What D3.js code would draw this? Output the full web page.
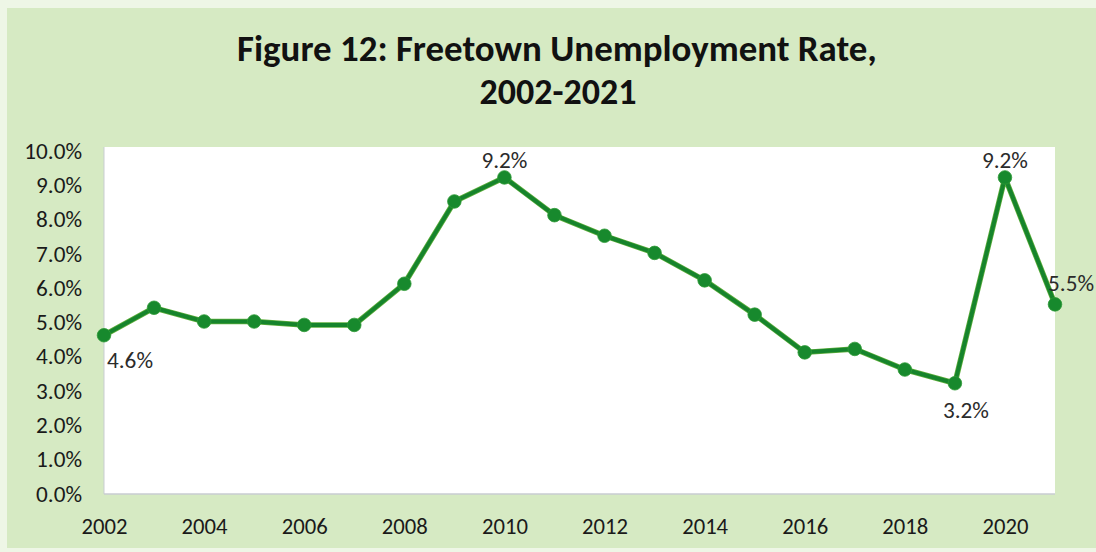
<!DOCTYPE html>
<html>
<head>
<meta charset="utf-8">
<script src="https://cdn.jsdelivr.net/npm/d3@7/dist/d3.min.js"></script>
<style>
  html, body { margin: 0; padding: 0; background: #ffffff; }
  svg { display: block; }
  text { font-family: Carlito, Calibri, Lato, "Open Sans", sans-serif; }
</style>
</head>
<body>
<svg id="chart" width="1096" height="552"></svg>
<script>
// ---- data ----
const years = [2002, 2003, 2004, 2005, 2006, 2007, 2008, 2009, 2010, 2011,
               2012, 2013, 2014, 2015, 2016, 2017, 2018, 2019, 2020, 2021];
const rates = [4.6, 5.4, 5.0, 5.0, 4.9, 4.9, 6.1, 8.5, 9.2, 8.1,
               7.5, 7.0, 6.2, 5.2, 4.1, 4.2, 3.6, 3.2, 9.2, 5.5];
const yTicks = [0, 1, 2, 3, 4, 5, 6, 7, 8, 9, 10];
const xTicks = [2002, 2004, 2006, 2008, 2010, 2012, 2014, 2016, 2018, 2020];
const labelledYears = [2002, 2010, 2019, 2020, 2021];
const titleLines = ["Figure 12: Freetown Unemployment Rate,", "2002-2021"];

// ---- layout ----
const W = 1096, H = 552;
const plot = { left: 104, right: 1055, top: 147, bottom: 494 };

const svg = d3.select("#chart");

// background
svg.append("rect").attr("x", 0).attr("y", 0).attr("width", W).attr("height", H).attr("fill", "#eef6e6");
svg.append("rect").attr("x", 7).attr("y", 8).attr("width", W - 7).attr("height", H - 12).attr("fill", "#d6eac3");

// scales
const x = d3.scaleLinear().domain([2002, 2021]).range([plot.left, plot.right]);
const y = d3.scaleLinear().domain([0, 10]).range([plot.bottom - 1, plot.bottom - 1 - 343]);

// plot area
svg.append("rect")
  .attr("x", plot.left).attr("y", plot.top)
  .attr("width", plot.right - plot.left).attr("height", plot.bottom - plot.top)
  .attr("fill", "#ffffff");

// axes lines (faint)
svg.append("line").attr("x1", plot.left).attr("x2", plot.left)
  .attr("y1", plot.top).attr("y2", plot.bottom)
  .attr("stroke", "#c9cdd2").attr("stroke-width", 1);
svg.append("line").attr("x1", plot.left).attr("x2", plot.right)
  .attr("y1", plot.bottom).attr("y2", plot.bottom)
  .attr("stroke", "#c9cdd2").attr("stroke-width", 1.5);

// helper: size font so a sample string reaches a target width
function fittedSize(sample, targetWidth, weight) {
  const tmp = svg.append("text").attr("font-size", 20).attr("font-weight", weight || "normal").text(sample);
  const w = tmp.node().getComputedTextLength();
  tmp.remove();
  return w > 0 ? 20 * targetWidth / w : 20;
}

// title
svg.append("text").attr("x", 557).attr("y", 61)
  .attr("text-anchor", "middle").attr("font-weight", "bold")
  .attr("font-size", fittedSize(titleLines[0], 640, "bold"))
  .attr("fill", "#111").text(titleLines[0]);
svg.append("text").attr("x", 558).attr("y", 104)
  .attr("text-anchor", "middle").attr("font-weight", "bold")
  .attr("font-size", fittedSize(titleLines[1], 157, "bold"))
  .attr("fill", "#111").text(titleLines[1]);

const tickSize = fittedSize("9.0%", 46);
const yearSize = fittedSize("2002", 46);
const dlSize = fittedSize("4.6%", 46);

// y axis
const yAxis = d3.axisLeft(y).tickValues(yTicks).tickSize(0).tickPadding(0)
  .tickFormat(d => d.toFixed(1) + "%");
const gy = svg.append("g").attr("transform", `translate(${82},0)`).call(yAxis);
gy.select(".domain").remove();
gy.selectAll("text").attr("font-size", tickSize).attr("fill", "#1a1a1a")
  .attr("font-family", "Carlito, Calibri, Lato, sans-serif").attr("dy", "0.35em");

// x axis
const xAxis = d3.axisBottom(x).tickValues(xTicks).tickSize(0).tickPadding(0)
  .tickFormat(d3.format("d"));
const gx = svg.append("g").attr("transform", `translate(0,${517})`).call(xAxis);
gx.select(".domain").remove();
gx.selectAll("text").attr("font-size", yearSize).attr("fill", "#1a1a1a")
  .attr("font-family", "Carlito, Calibri, Lato, sans-serif").attr("dy", "0.75em");

// line
const data = years.map((yr, i) => ({ year: yr, v: rates[i] }));
const line = d3.line().x(d => x(d.year)).y(d => y(d.v));
svg.append("path").datum(data).attr("d", line)
  .attr("fill", "none").attr("stroke", "#5fae3c").attr("stroke-width", 5.5)
  .attr("stroke-linejoin", "round");
svg.append("path").datum(data).attr("d", line)
  .attr("fill", "none").attr("stroke", "#16842c").attr("stroke-width", 4)
  .attr("stroke-linejoin", "round");

// markers
svg.selectAll("circle.pt").data(data).enter().append("circle")
  .attr("class", "pt")
  .attr("cx", d => x(d.year)).attr("cy", d => y(d.v)).attr("r", 6.8)
  .attr("fill", "#17892d").attr("stroke", "#2e9a36").attr("stroke-width", 0.8);

// data labels
const labelPos = {
  2002: { dx: 3, dy: 25, anchor: "start" },
  2010: { dx: 0, dy: -18, anchor: "middle" },
  2019: { dx: 11, dy: 27, anchor: "middle" },
  2020: { dx: 0, dy: -18, anchor: "middle" },
  2021: { dx: 39, dy: -21, anchor: "end" }
};
svg.selectAll("text.dl").data(data.filter(d => labelledYears.includes(d.year))).enter()
  .append("text").attr("class", "dl")
  .attr("x", d => x(d.year) + labelPos[d.year].dx)
  .attr("y", d => y(d.v) + labelPos[d.year].dy)
  .attr("dy", "0.35em")
  .attr("text-anchor", d => labelPos[d.year].anchor)
  .attr("font-size", dlSize).attr("fill", "#2b2b2b")
  .text(d => d.v.toFixed(1) + "%");
</script>
</body>
</html>
